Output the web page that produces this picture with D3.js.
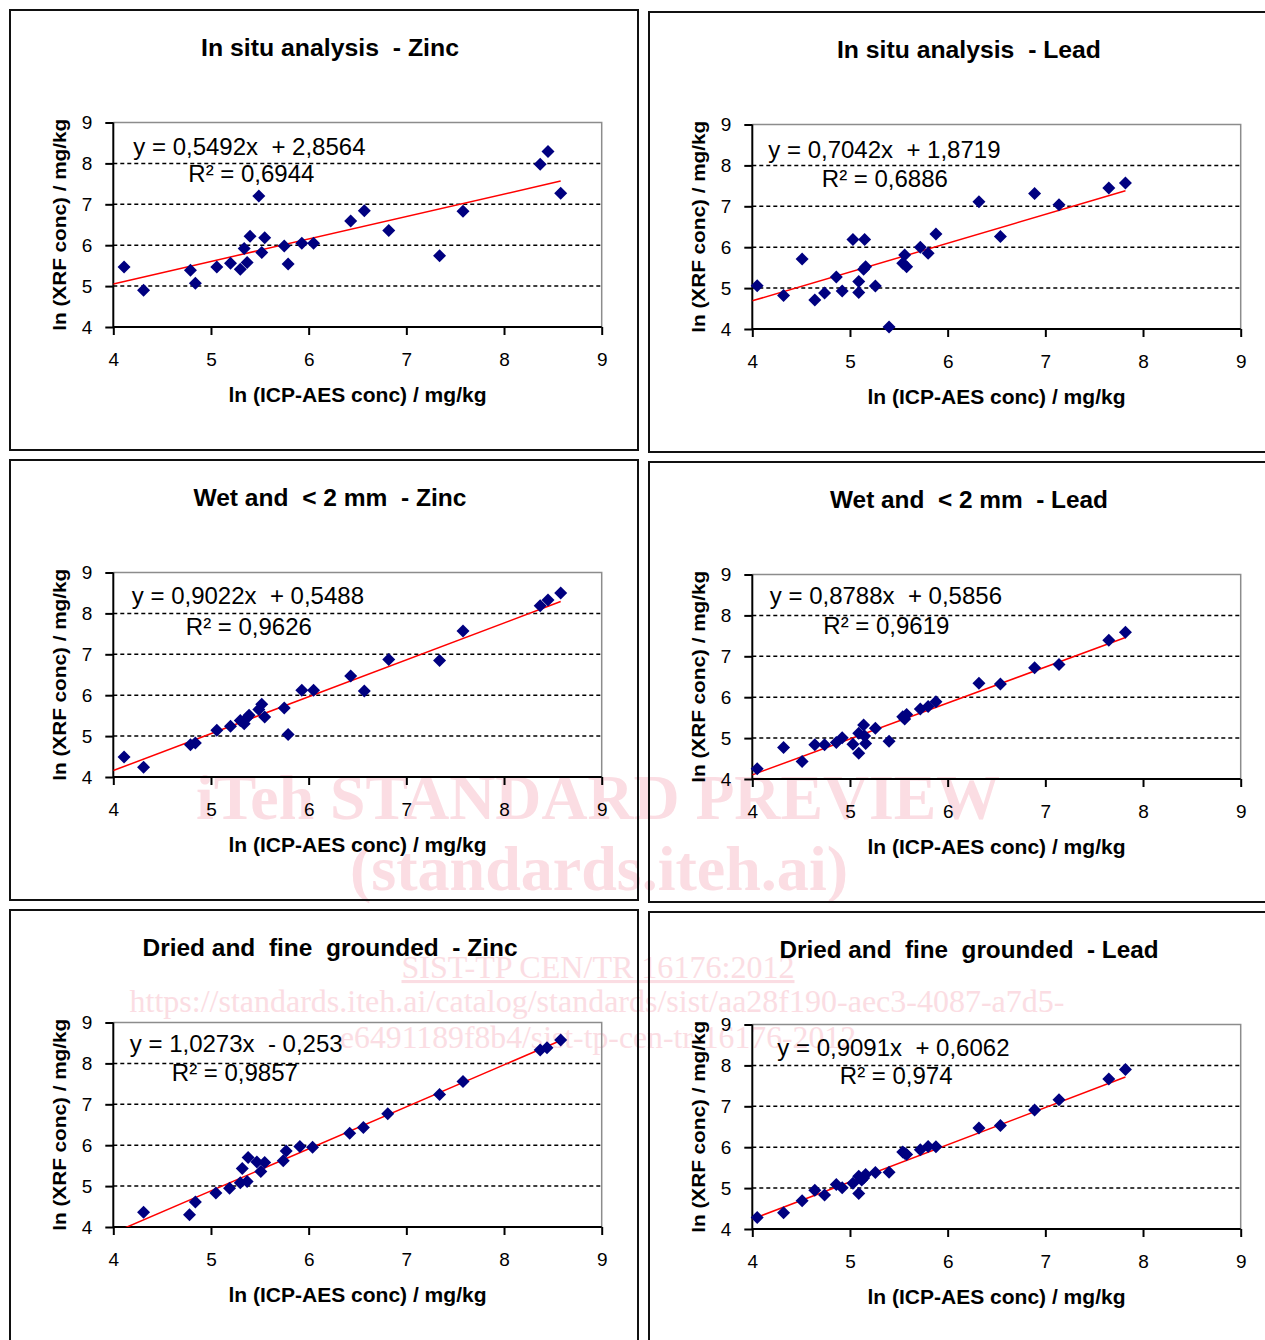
<!DOCTYPE html>
<html>
<head>
<meta charset="utf-8">
<script src="https://cdn.jsdelivr.net/npm/d3@7"></script>
<style>
    body { margin: 0; background: #fff; }
    svg text { font-family: "Liberation Sans", Arial, sans-serif; }
    .wm { font-family: "Liberation Serif", "Times New Roman", serif; fill: #fbdde3; }
</style>
</head>
<body>
<svg id="chart" width="1265" height="1340"></svg>
<script>
// ---- data ----
const titles = [
    'In situ analysis  - Zinc', 'In situ analysis  - Lead',
    'Wet and  < 2 mm  - Zinc', 'Wet and  < 2 mm  - Lead',
    'Dried and  fine  grounded  - Zinc', 'Dried and  fine  grounded  - Lead',
];
const eqTexts = [
    'y = 0,5492x  + 2,8564', 'y = 0,7042x  + 1,8719',
    'y = 0,9022x  + 0,5488', 'y = 0,8788x  + 0,5856',
    'y = 1,0273x  - 0,253', 'y = 0,9091x  + 0,6062',
];
const r2Texts = ['R² = 0,6944', 'R² = 0,6886', 'R² = 0,9626', 'R² = 0,9619', 'R² = 0,9857', 'R² = 0,974'];
const slopes = [0.5492, 0.7042, 0.9022, 0.8788, 1.0273, 0.9091];
const intercepts = [2.8564, 1.8719, 0.5488, 0.5856, -0.253, 0.6062];
const ticks = [4, 5, 6, 7, 8, 9];
const xTitle = 'ln (ICP-AES conc) / mg/kg';
const yTitle = 'ln (XRF conc) / mg/kg';

const inSituZinc = [[4.11, 5.47], [4.31, 4.90], [4.79, 5.39], [4.84, 5.07], [5.06, 5.47], [5.20, 5.56],
    [5.30, 5.41], [5.37, 5.58], [5.34, 5.92], [5.40, 6.22], [5.49, 7.20], [5.52, 5.82], [5.55, 6.18],
    [5.75, 5.98], [5.79, 5.54], [5.93, 6.05], [6.05, 6.05], [6.43, 6.59], [6.57, 6.84], [6.82, 6.36],
    [7.34, 5.74], [7.58, 6.83], [8.37, 7.98], [8.45, 8.29], [8.58, 7.27]];
const inSituLead = [[4.05, 5.06], [4.32, 4.82], [4.51, 5.71], [4.64, 4.71], [4.74, 4.88], [4.86, 5.27],
    [4.92, 4.93], [5.03, 6.19], [5.09, 4.89], [5.09, 5.16], [5.15, 6.19], [5.14, 5.46], [5.16, 5.52],
    [5.26, 5.05], [5.40, 4.05], [5.54, 5.61], [5.56, 5.81], [5.58, 5.52], [5.72, 6.00], [5.80, 5.85],
    [5.88, 6.32], [6.32, 7.11], [6.54, 6.26], [6.89, 7.31], [7.14, 7.04], [7.65, 7.45], [7.82, 7.57]];
const wetZinc = [[4.11, 4.49], [4.31, 4.24], [4.79, 4.79], [4.84, 4.83], [5.06, 5.14], [5.20, 5.24],
    [5.30, 5.38], [5.34, 5.30], [5.37, 5.45], [5.39, 5.51], [5.49, 5.65], [5.52, 5.78], [5.55, 5.47],
    [5.75, 5.69], [5.79, 5.04], [5.93, 6.12], [6.05, 6.12], [6.43, 6.47], [6.57, 6.10], [6.82, 6.87],
    [7.34, 6.85], [7.58, 7.57], [8.37, 8.19], [8.45, 8.33], [8.58, 8.50]];
const wetLead = [[4.05, 4.25], [4.32, 4.77], [4.51, 4.43], [4.64, 4.84], [4.74, 4.84], [4.86, 4.89],
    [4.92, 5.01], [5.03, 4.85], [5.09, 4.63], [5.09, 5.12], [5.14, 5.32], [5.15, 5.05], [5.16, 4.87],
    [5.26, 5.24], [5.40, 4.92], [5.54, 5.52], [5.56, 5.47], [5.58, 5.58], [5.72, 5.71], [5.80, 5.77],
    [5.88, 5.89], [6.32, 6.34], [6.54, 6.32], [6.89, 6.72], [7.14, 6.80], [7.65, 7.39], [7.82, 7.59]];
const driedZinc = [[4.31, 4.36], [4.78, 4.30], [4.84, 4.61], [5.05, 4.83], [5.19, 4.95], [5.30, 5.08],
    [5.37, 5.11], [5.32, 5.43], [5.38, 5.70], [5.47, 5.59], [5.51, 5.36], [5.55, 5.58], [5.74, 5.62],
    [5.77, 5.86], [5.91, 5.97], [6.04, 5.95], [6.42, 6.29], [6.56, 6.43], [6.81, 6.77], [7.34, 7.24],
    [7.58, 7.56], [8.37, 8.33], [8.44, 8.38], [8.58, 8.57]];
const driedLead = [[4.05, 4.28], [4.32, 4.40], [4.51, 4.69], [4.64, 4.95], [4.74, 4.83], [4.86, 5.09],
    [4.92, 5.01], [5.03, 5.12], [5.09, 4.87], [5.09, 5.29], [5.12, 5.20], [5.14, 5.25], [5.16, 5.33],
    [5.26, 5.38], [5.40, 5.39], [5.54, 5.88], [5.56, 5.85], [5.58, 5.82], [5.72, 5.94], [5.80, 6.02],
    [5.88, 6.01], [6.32, 6.47], [6.54, 6.53], [6.89, 6.91], [7.14, 7.16], [7.65, 7.67], [7.82, 7.90]];
const series = [inSituZinc, inSituLead, wetZinc, wetLead, driedZinc, driedLead];

// ---- layout ----
const colX = [10, 649];
const colDy = [0, 2];
const rowY = [10, 460, 910];
const frameW = 628;
const frameH = 440;
const plot = { left: 103.3, top: 112.5, width: 488.4, height: 204.5 };
const titleWidths = [258, 264, 273, 278, 375, 379];
// equation / R² label offsets from the plot's top-left corner
const eqPos = [[20, 32.5], [16, 33], [18.5, 31.5], [17.5, 29.5], [16.5, 29], [25, 31]];
const r2Pos = [[75, 59.5], [69.5, 62.5], [72.5, 62], [71, 59.5], [58.5, 58.5], [87.5, 59.5]];

const svg = d3.select('#chart');

// watermark sits under the charts
const wm = svg.append('g');
wm.append('text').attr('class', 'wm').attr('x', 598).attr('y', 819)
    .attr('text-anchor', 'middle').attr('font-size', 63).attr('font-weight', 'bold')
    .attr('textLength', 804).attr('lengthAdjust', 'spacingAndGlyphs')
    .text('iTeh STANDARD PREVIEW');
wm.append('text').attr('class', 'wm').attr('x', 599).attr('y', 890)
    .attr('text-anchor', 'middle').attr('font-size', 63).attr('font-weight', 'bold')
    .attr('textLength', 498).attr('lengthAdjust', 'spacingAndGlyphs')
    .text('(standards.iteh.ai)');
wm.append('text').attr('class', 'wm').attr('x', 598).attr('y', 978)
    .attr('text-anchor', 'middle').attr('font-size', 31)
    .attr('textLength', 393).attr('lengthAdjust', 'spacingAndGlyphs')
    .style('text-decoration', 'underline')
    .text('SIST-TP CEN/TR 16176:2012');
wm.append('text').attr('class', 'wm').attr('x', 597).attr('y', 1012)
    .attr('text-anchor', 'middle').attr('font-size', 31)
    .attr('textLength', 935).attr('lengthAdjust', 'spacingAndGlyphs')
    .text('https://standards.iteh.ai/catalog/standards/sist/aa28f190-aec3-4087-a7d5-');
wm.append('text').attr('class', 'wm').attr('x', 598).attr('y', 1048)
    .attr('text-anchor', 'middle').attr('font-size', 31)
    .attr('textLength', 516).attr('lengthAdjust', 'spacingAndGlyphs')
    .text('e6491189f8b4/sist-tp-cen-tr-16176-2012');

const diamond = 'M0,-6.5L6.5,0L0,6.5L-6.5,0Z';

series.forEach((data, i) => {
    const col = i % 2;
    const row = Math.floor(i / 2);
    const fx = colX[col];
    const fy = rowY[row] + colDy[col];

    const panel = svg.append('g').attr('transform', `translate(${fx},${fy})`);
    panel.append('rect')
        .attr('x', 0).attr('y', 0)
        .attr('width', frameW).attr('height', frameH)
        .attr('fill', 'none')
        .attr('stroke', '#111')
        .attr('stroke-width', 2);

    panel.append('text')
        .attr('x', 320).attr('y', 46)
        .attr('text-anchor', 'middle')
        .attr('font-size', 23)
        .attr('font-weight', 'bold')
        .attr('textLength', titleWidths[i]).attr('lengthAdjust', 'spacingAndGlyphs')
        .style('white-space', 'pre')
        .text(titles[i]);

    const g = panel.append('g').attr('transform', `translate(${plot.left},${plot.top})`);
    const x = d3.scaleLinear().domain([4, 9]).range([0, plot.width]);
    const y = d3.scaleLinear().domain([4, 9]).range([plot.height, 0]);

    // dashed gridlines
    g.selectAll('line.grid')
        .data(ticks.slice(1, -1))
        .join('line')
        .attr('class', 'grid')
        .attr('x1', 0).attr('x2', plot.width)
        .attr('y1', (d) => y(d)).attr('y2', (d) => y(d))
        .attr('stroke', '#000')
        .attr('stroke-width', 1.5)
        .attr('stroke-dasharray', '4,3');

    // plot-area border top/right
    g.append('path')
        .attr('d', `M0,${y(9)}H${x(9)}V${y(4)}`)
        .attr('fill', 'none')
        .attr('stroke', '#8c8c8c')
        .attr('stroke-width', 1.5);

    const yAxis = g.append('g')
        .call(d3.axisLeft(y).tickValues(ticks).tickSize(8).tickPadding(13).tickFormat(d3.format('d')));
    const xAxis = g.append('g')
        .attr('transform', `translate(0,${plot.height})`)
        .call(d3.axisBottom(x).tickValues(ticks).tickSize(8).tickPadding(18).tickFormat(d3.format('d')));
    [xAxis, yAxis].forEach((ax) => {
        ax.select('.domain').attr('stroke', '#000').attr('stroke-width', 2)
            .attr('d', ax === xAxis ? `M0,0H${plot.width}` : `M0,0V${plot.height}`);
        ax.selectAll('.tick line').attr('stroke', '#000').attr('stroke-width', 2);
        ax.selectAll('.tick text')
            .attr('font-size', 19)
            .attr('font-family', '"Liberation Sans", Arial, sans-serif')
            .attr('fill', '#000');
    });

    // axis titles
    g.append('text')
        .attr('x', plot.width / 2).attr('y', plot.height + 75)
        .attr('text-anchor', 'middle')
        .attr('font-size', 20).attr('font-weight', 'bold')
        .attr('textLength', 258).attr('lengthAdjust', 'spacingAndGlyphs')
        .text(xTitle);
    g.append('text')
        .attr('transform', `translate(-47,${plot.height / 2}) rotate(-90)`)
        .attr('text-anchor', 'middle')
        .attr('font-size', 19).attr('font-weight', 'bold')
        .attr('textLength', 212).attr('lengthAdjust', 'spacingAndGlyphs')
        .text(yTitle);

    // trendline, clipped to the plot area
    const clipId = `clip${i}`;
    g.append('clipPath').attr('id', clipId)
        .append('rect').attr('width', plot.width).attr('height', plot.height);
    const xEnd = d3.max(data, (d) => d[0]);
    g.append('line')
        .attr('clip-path', `url(#${clipId})`)
        .attr('x1', x(4)).attr('y1', y(slopes[i] * 4 + intercepts[i]))
        .attr('x2', x(xEnd)).attr('y2', y(slopes[i] * xEnd + intercepts[i]))
        .attr('stroke', '#ff0000')
        .attr('stroke-width', 1.5);

    g.selectAll('path.pt')
        .data(data)
        .join('path')
        .attr('class', 'pt')
        .attr('d', diamond)
        .attr('transform', (d) => `translate(${x(d[0])},${y(d[1])})`)
        .attr('fill', '#000080');

    g.append('text')
        .attr('x', eqPos[i][0]).attr('y', eqPos[i][1])
        .attr('font-size', 24)
        .style('white-space', 'pre')
        .text(eqTexts[i]);
    g.append('text')
        .attr('x', r2Pos[i][0]).attr('y', r2Pos[i][1])
        .attr('font-size', 24)
        .text(r2Texts[i]);
});
</script>
</body>
</html>
